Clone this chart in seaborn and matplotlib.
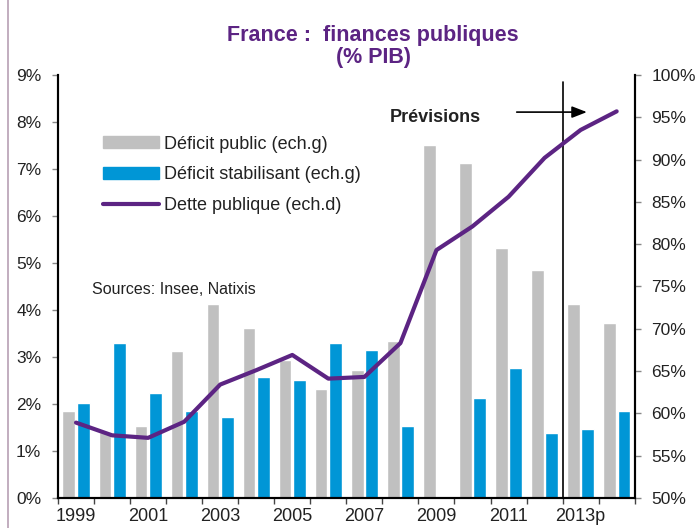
import seaborn as sns
import matplotlib.pyplot as plt
import matplotlib.patches as mpatches
import matplotlib.lines as mlines
import pandas as pd
from matplotlib.ticker import FuncFormatter

years = ["1999", "2000", "2001", "2002", "2003", "2004", "2005", "2006",
         "2007", "2008", "2009", "2010", "2011", "2012", "2013p", "2014"]
deficit_public = [1.84, 1.40, 1.52, 3.13, 4.12, 3.62, 2.94, 2.32,
                  2.72, 3.33, 7.51, 7.12, 5.31, 4.84, 4.12, 3.72]
deficit_stab = [2.03, 3.29, 2.24, 1.84, 1.73, 2.57, 2.50, 3.29,
                3.15, 1.52, -0.08, 2.12, 2.77, 1.38, 1.46, 1.84]
dette = [58.9, 57.4, 57.1, 59.0, 63.4, 65.1, 66.9, 64.1,
         64.3, 68.3, 79.3, 82.1, 85.6, 90.2, 93.5, 95.7]
tick_years = ["1999", "", "2001", "", "2003", "", "2005", "", "2007", "",
              "2009", "", "2011", "", "2013p", ""]

lab_pub = "Déficit public (ech.g)"
lab_stab = "Déficit stabilisant (ech.g)"
lab_dette = "Dette publique (ech.d)"
grey = "#c0c0c0"
blue = "#0096d6"
purple = "#5c2483"

sns.set_style("white")
plt.rcParams['font.family'] = ['Liberation Sans', 'DejaVu Sans']

df = pd.DataFrame({
    "Année": years * 2,
    "Valeur": deficit_public + deficit_stab,
    "Série": [lab_pub] * len(years) + [lab_stab] * len(years),
})

fig = plt.figure(figsize=(6.99, 5.28), dpi=100)
ax = fig.add_axes([0.083, 0.057, 0.825, 0.801])

sns.barplot(data=df, x="Année", y="Valeur", hue="Série",
            palette=[grey, blue], width=0.8, gap=0.12,
            saturation=1, ax=ax, legend=False, order=years)

ax2 = ax.twinx()
sns.lineplot(x=list(range(len(years))), y=dette, ax=ax2,
             color=purple, linewidth=3)

ax.set_xlim(-0.5, len(years) - 0.5)
ax.set_ylim(0, 9)
ax2.set_ylim(50, 100)
ax.set_yticks(range(0, 10))
ax2.set_yticks(range(50, 101, 5))
ax.yaxis.set_major_formatter(FuncFormatter(lambda v, p: f"{v:.0f}%"))
ax2.yaxis.set_major_formatter(FuncFormatter(lambda v, p: f"{v:.0f}%"))
ax.set_xlabel("")
ax.set_ylabel("")
ax2.set_ylabel("")

ax.set_xticks(range(len(years)))
ax.set_xticklabels(tick_years)
ax.tick_params(axis="x", which="major", length=0, labelsize=13, pad=7,
               labelcolor="#222222")
ax.set_xticks([i - 0.5 for i in range(len(years) + 1)], minor=True)
ax.tick_params(axis="x", which="minor", length=4, width=1, color="#444444",
               direction="out", bottom=True)
ax.tick_params(axis="y", length=4, width=1, color="#888888", left=True,
               labelsize=12.5, labelcolor="#222222", pad=8)
ax2.tick_params(axis="y", length=4, width=1, color="#888888", right=True,
                labelsize=12.5, labelcolor="#222222", pad=8)

for a in (ax, ax2):
    a.spines["top"].set_visible(False)
    for s in ("left", "right", "bottom"):
        a.spines[s].set_color("black")
        a.spines[s].set_linewidth(1.5)

# séparation prévisions
ax.plot([13.5, 13.5], [0, 8.85], color="black", linewidth=1.2, clip_on=False)
ax.annotate("", xy=(14.25, 8.21), xytext=(12.15, 8.21),
            arrowprops=dict(arrowstyle="-|>,head_length=0.9,head_width=0.35",
                            color="black", lw=1.2))
ax.text(9.98, 8.1, "Prévisions", ha="center", va="center",
        fontsize=13, fontweight="bold", color="#222222")
ax.text(0.44, 4.43, "Sources: Insee, Natixis", ha="left", va="center",
        fontsize=11.5, color="#222222")

handles = [
    mpatches.Patch(color=grey, label=lab_pub),
    mpatches.Patch(color=blue, label=lab_stab),
    mlines.Line2D([], [], color=purple, linewidth=3, label=lab_dette),
]
ax.legend(handles=handles, loc="upper left", bbox_to_anchor=(0.05, 0.895),
          frameon=False, fontsize=13, handlelength=3.1, handleheight=0.65,
          labelspacing=0.75, handletextpad=0.25, labelcolor="#222222")

fig.text(0.534, 0.912, "France :  finances publiques\n(% PIB)", ha="center",
         va="center", fontsize=15.5, fontweight="bold", color=purple,
         linespacing=1.05)

fig.add_artist(mlines.Line2D([0.011, 0.011], [0, 1], color="#b8a0b4",
                             linewidth=1.2))

fig.savefig("out.png", dpi=100)
